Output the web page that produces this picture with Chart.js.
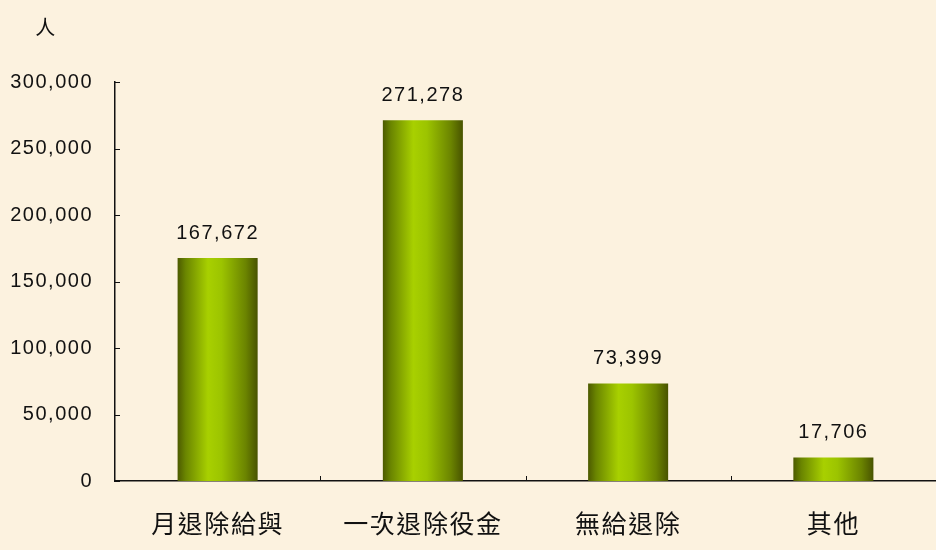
<!DOCTYPE html>
<html>
<head>
<meta charset="utf-8">
<script src="https://cdn.jsdelivr.net/npm/chart.js@4/dist/chart.umd.min.js"></script>
<style>
  html, body { margin: 0; padding: 0; background: #fcf2df; }
  #wrap { width: 936px; height: 550px; }
</style>
</head>
<body>
<div id="wrap"><canvas id="chart"></canvas></div>
<script>
const categories = ['月退除給與', '一次退除役金', '無給退除', '其他'];
const values = [167672, 271278, 73399, 17706];
const yTicks = [0, 50000, 100000, 150000, 200000, 250000, 300000];
const unitLabel = '人';

const numFont = "'Liberation Sans', Arial, sans-serif";
const cjkFont = "'Noto Sans CJK TC', 'Noto Sans CJK SC', sans-serif";

// 長條由暗到亮再到暗的橫向漸層
function barGradient(ctx, left, right) {
    const g = ctx.createLinearGradient(left, 0, right, 0);
    g.addColorStop(0, '#4c5a00');
    g.addColorStop(0.1, '#6a8500');
    g.addColorStop(0.38, '#a8d000');
    g.addColorStop(0.55, '#9cc400');
    g.addColorStop(0.85, '#6b8400');
    g.addColorStop(1, '#485300');
    return g;
}

const extras = {
    id: 'extras',
    beforeDraw(chart) {
        chart.ctx.letterSpacing = '1.5px';
    },
    beforeDatasetsDraw(chart) {
        chart.getDatasetMeta(0).data.forEach(bar => {
            if (!isFinite(bar.x) || !isFinite(bar.width)) return;
            bar.options.backgroundColor = barGradient(chart.ctx, bar.x - bar.width / 2, bar.x + bar.width / 2);
        });
    },
    afterDraw(chart) {
        const ctx = chart.ctx;
        const area = chart.chartArea;
        const xs = chart.scales.x;
        const ys = chart.scales.y;
        ctx.save();
        ctx.strokeStyle = '#111';
        ctx.lineWidth = 1;
        ctx.beginPath();
        // 刻度朝內
        ys.ticks.forEach((t, i) => {
            const y = Math.round(ys.getPixelForTick(i)) + 0.5;
            ctx.moveTo(area.left, y);
            ctx.lineTo(area.left + 5, y);
        });
        for (let i = 0; i < categories.length; i++) {
            const x = Math.round(xs.getPixelForValue(i + 0.5)) + 0.5;
            ctx.moveTo(x, area.bottom);
            ctx.lineTo(x, area.bottom - 5);
        }
        ctx.stroke();

        // 數值標籤
        ctx.fillStyle = '#111';
        ctx.font = '20px ' + numFont;
        ctx.textAlign = 'center';
        ctx.textBaseline = 'middle';
        chart.getDatasetMeta(0).data.forEach((bar, i) => {
            ctx.fillText(values[i].toLocaleString('en-US'), bar.x, bar.y - 25);
        });

        // 單位
        ctx.font = '20px ' + cjkFont;
        ctx.fillText(unitLabel, 46, area.top - 55);
        ctx.restore();
    }
};

new Chart(document.getElementById('chart'), {
    type: 'bar',
    data: {
        labels: categories,
        datasets: [{
            data: values,
            backgroundColor: () => '#8fb000',
            borderWidth: 0,
            categoryPercentage: 1,
            barPercentage: 0.39
        }]
    },
    options: {
        responsive: true,
        maintainAspectRatio: false,
        animation: false,
        layout: { padding: { top: 82, right: 0, bottom: 0, left: 0 } },
        plugins: {
            legend: { display: false },
            tooltip: { enabled: false }
        },
        scales: {
            x: {
                afterFit(scale) {
                    scale.height = 69;
                },
                grid: { display: false },
                border: { display: true, color: '#111', width: 1.5 },
                ticks: {
                    color: '#111',
                    padding: 19,
                    font: { family: cjkFont, size: 25 }
                }
            },
            y: {
                min: 0,
                max: 300000,
                afterBuildTicks(scale) {
                    scale.ticks = yTicks.map(v => ({ value: v }));
                },
                afterFit(scale) {
                    scale.width = 115;
                },
                grid: { display: false },
                border: { display: true, color: '#111', width: 1.5 },
                ticks: {
                    color: '#111',
                    padding: 14,
                    font: { family: numFont, size: 20 },
                    callback: v => v.toLocaleString('en-US')
                }
            }
        }
    },
    plugins: [extras]
});
</script>
</body>
</html>
